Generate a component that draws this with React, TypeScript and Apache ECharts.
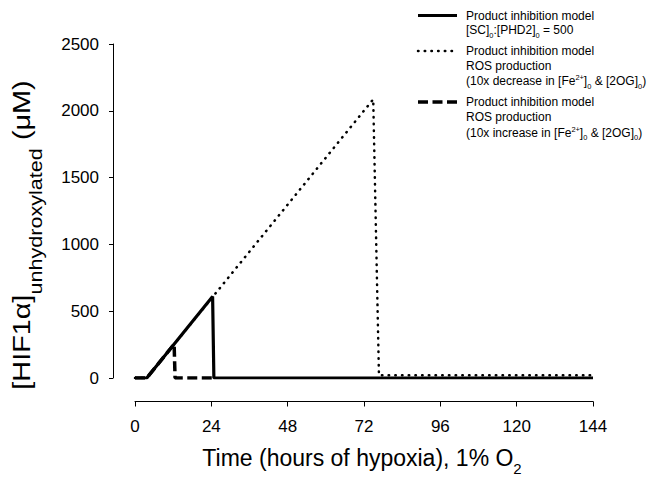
import React, { useEffect, useRef } from "react";
import * as echarts from "echarts";

// ---- data ----
const xTicks = [0, 24, 48, 72, 96, 120, 144];
const yTicks = [0, 500, 1000, 1500, 2000, 2500];
// Product inhibition model, [SC]0:[PHD2]0 = 500 (solid)
const solidSeries: [number, number][] = [
  [0, 0], [3.7, 0], [24.4, 610], [24.8, 0], [144, 0],
];
// ROS production, 10x decrease (dotted)
const dottedSeries: [number, number][] = [
  [0, 0], [3.7, 0], [74.9, 2086], [76.7, 20], [144, 20],
];
// ROS production, 10x increase (dashed)
const dashedSeries: [number, number][] = [
  [0, 0], [3.7, 0], [12.3, 254], [12.6, 0], [24.5, 0],
];

type Seg = { t: string; k?: "sub" | "sup" };
const legendRows: Seg[][][] = [
  [
    [{ t: "Product inhibition model" }],
    [{ t: "[SC]" }, { t: "0", k: "sub" }, { t: ":[PHD2]" }, { t: "0", k: "sub" }, { t: " = 500" }],
  ],
  [
    [{ t: "Product inhibition model" }],
    [{ t: "ROS production" }],
    [{ t: "(10x decrease in [Fe" }, { t: "2+", k: "sup" }, { t: "]" }, { t: "0", k: "sub" }, { t: " & [2OG]" }, { t: "0", k: "sub" }, { t: ")" }],
  ],
  [
    [{ t: "Product inhibition model" }],
    [{ t: "ROS production" }],
    [{ t: "(10x increase in [Fe" }, { t: "2+", k: "sup" }, { t: "]" }, { t: "0", k: "sub" }, { t: " & [2OG]" }, { t: "0", k: "sub" }, { t: ")" }],
  ],
];
const xTitle: Seg[] = [{ t: "Time (hours of hypoxia), 1% O" }, { t: "2", k: "sub" }];
const yTitle: Seg[] = [{ t: "[HIF1\u03b1]" }, { t: "unhydroxylated", k: "sub" }, { t: " (\u03bcM)" }];

const FONT = '"Liberation Sans", Arial, sans-serif';
let ctx: CanvasRenderingContext2D | null = null;
function measure(text: string, size: number) {
  if (!ctx) ctx = document.createElement("canvas").getContext("2d");
  ctx!.font = `${size}px ${FONT}`;
  return ctx!.measureText(text).width;
}

function richLine(
  segs: Seg[], x: number, baseline: number, size: number,
  align: "left" | "center", subRatio = 0.65, subShift = 0.3
) {
  const sizes = segs.map((s) => (s.k ? size * subRatio : size));
  const widths = segs.map((s, i) => measure(s.t, sizes[i]));
  const total = widths.reduce((a, b) => a + b, 0);
  let cx = align === "center" ? x - total / 2 : x;
  const els: any[] = [];
  segs.forEach((s, i) => {
    const sz = sizes[i];
    let b = baseline;
    if (s.k === "sub") b += size * subShift;
    if (s.k === "sup") b -= size * 0.4;
    els.push({
      type: "text",
      x: cx,
      y: b - 0.35 * sz,
      style: {
        text: s.t,
        font: `${sz}px ${FONT}`,
        fill: "#000",
        align: "left",
        verticalAlign: "middle",
        textAlign: "left",
        textVerticalAlign: "middle",
      },
    });
    cx += widths[i];
  });
  return els;
}

export default function App() {
  const ref = useRef<HTMLDivElement>(null);
  useEffect(() => {
    if (!ref.current) return;
    document.body.style.margin = "0";
    const chart = echarts.init(ref.current, undefined, { renderer: "svg" });

    const graphics: any[] = [];
    // legend
    const lineY = [15.5, 51, 102];
    const baselines = [[20, 34.3], [55.3, 70, 85.3], [106.3, 121.6, 137]];
    const lineStyles = [
      { stroke: "#000", lineWidth: 3.2 },
      { stroke: "#000", lineWidth: 2.5, lineDash: [0.5, 6.2], lineCap: "round" },
      { stroke: "#000", lineWidth: 3.5, lineDash: [10, 4.5] },
    ];
    legendRows.forEach((rows, i) => {
      graphics.push({
        type: "line",
        shape: { x1: 418, y1: lineY[i], x2: 457, y2: lineY[i] },
        style: lineStyles[i],
      });
      rows.forEach((segs, j) => {
        graphics.push(...richLine(segs, 466, baselines[i][j], 12, "left", 0.62, 0.3));
      });
    });
    // x title
    graphics.push(...richLine(xTitle, 362, 466, 23, "center", 0.65, 0.35));
    // y title (rotated)
    graphics.push({
      type: "group",
      x: 30,
      y: 235,
      rotation: Math.PI / 2,
      scaleX: 1.2,
      children: richLine(yTitle, 0, 0, 24, "center", 0.75, 0.5),
    });

    chart.setOption({
      animation: false,
      backgroundColor: "#fff",
      textStyle: { fontFamily: FONT },
      grid: { left: 135, right: 65, top: 44, bottom: 104, outerBoundsMode: "none" },
      xAxis: {
        type: "value",
        min: xTicks[0],
        max: xTicks[xTicks.length - 1],
        interval: 24,
        offset: 23.5,
        axisLine: { show: true, onZero: false, lineStyle: { color: "#000", width: 1 } },
        axisTick: { show: true, length: 5, lineStyle: { color: "#000" } },
        splitLine: { show: false },
        axisLabel: { fontSize: 17, color: "#000", margin: 16, fontFamily: FONT, formatter: (v: number) => String(v) },
      },
      yAxis: {
        type: "value",
        min: yTicks[0],
        max: yTicks[yTicks.length - 1],
        interval: 500,
        offset: 22,
        axisLine: { show: true, onZero: false, lineStyle: { color: "#000", width: 1 } },
        axisTick: { show: true, length: 4, lineStyle: { color: "#000" } },
        splitLine: { show: false },
        axisLabel: { fontSize: 17, color: "#000", margin: 14, fontFamily: FONT, formatter: (v: number) => String(v) },
      },
      series: [
        {
          type: "line",
          data: dottedSeries,
          symbol: "none",
          z: 2,
          lineStyle: { color: "#000", width: 2.5, type: [0.5, 6.2], cap: "round" },
        },
        {
          type: "line",
          data: dashedSeries,
          symbol: "none",
          z: 3,
          lineStyle: { color: "#000", width: 3.5, type: [10, 4.5] },
        },
        {
          type: "line",
          data: solidSeries,
          symbol: "none",
          z: 4,
          lineStyle: { color: "#000", width: 3.2 },
        },
      ],
      graphic: graphics,
    });
    return () => chart.dispose();
  }, []);
  return <div ref={ref} style={{ width: 658, height: 482 }} />;
}
